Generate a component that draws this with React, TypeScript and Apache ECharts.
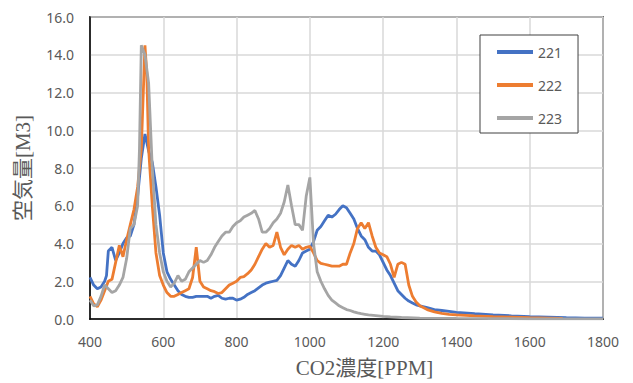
import React, { useEffect, useRef } from "react";
import * as echarts from "echarts";

const xTicks = [400, 600, 800, 1000, 1200, 1400, 1600, 1800];
const seriesNames = ["221", "222", "223"];

const x221 = [400,410,420,430,440,445,450,460,470,480,490,500,510,520,530,540,550,560,570,580,590,600,610,620,630,640,650,660,670,680,690,700,710,720,730,740,750,760,770,780,790,800,810,820,830,840,850,860,870,880,890,900,910,920,930,940,950,960,970,980,990,1000,1010,1020,1030,1040,1050,1060,1070,1080,1090,1100,1110,1120,1130,1140,1150,1160,1170,1180,1190,1200,1210,1220,1230,1240,1250,1260,1270,1280,1290,1300,1320,1340,1360,1380,1400,1450,1500,1550,1600,1650,1700,1750,1800];
const y221 = [2.2,1.8,1.6,1.7,2.0,2.3,3.6,3.8,3.1,3.5,4.0,4.3,4.4,5.0,6.5,8.5,9.8,8.9,8.3,7.0,5.5,3.5,2.5,2.1,1.8,1.5,1.3,1.2,1.15,1.15,1.2,1.2,1.2,1.2,1.1,1.2,1.25,1.1,1.05,1.1,1.1,1.0,1.05,1.15,1.3,1.4,1.5,1.65,1.8,1.9,1.95,2.0,2.05,2.3,2.7,3.1,2.9,2.8,3.1,3.5,3.6,3.7,4.1,4.7,4.9,5.2,5.5,5.4,5.55,5.8,6.0,5.9,5.6,5.3,4.8,4.4,4.2,3.8,3.6,3.6,3.4,3.0,2.6,2.3,1.9,1.5,1.3,1.1,0.95,0.85,0.75,0.7,0.6,0.5,0.45,0.4,0.35,0.28,0.22,0.17,0.13,0.1,0.07,0.05,0.05];

const x222 = [400,410,420,430,440,450,460,470,480,490,500,510,520,530,540,550,555,560,570,580,590,600,610,620,630,640,650,660,670,680,690,700,710,720,730,740,750,760,770,780,790,800,810,820,830,840,850,860,870,880,890,900,910,920,930,940,950,960,970,980,990,1000,1010,1020,1030,1040,1050,1060,1070,1080,1090,1100,1110,1120,1130,1140,1150,1160,1170,1180,1190,1200,1210,1220,1230,1240,1250,1260,1270,1280,1290,1300,1320,1340,1360,1380,1400,1450,1500,1550,1600,1650,1690];
const y222 = [1.2,0.8,0.65,1.0,1.5,2.0,2.1,3.0,3.9,3.3,4.2,5.0,5.8,7.0,9.0,14.5,13.0,9.0,6.0,3.5,2.3,1.8,1.4,1.2,1.2,1.3,1.4,1.5,1.6,2.2,3.8,2.0,1.7,1.6,1.5,1.45,1.35,1.4,1.6,1.8,1.9,2.0,2.2,2.25,2.4,2.6,2.9,3.3,3.7,4.0,3.8,3.9,4.6,3.8,3.4,3.7,3.9,3.8,3.9,3.7,3.8,3.85,3.5,3.1,2.95,2.9,2.85,2.8,2.8,2.8,2.9,2.9,3.5,4.0,4.8,5.1,4.8,5.1,4.4,3.8,3.5,3.4,3.3,2.9,2.2,2.9,3.0,2.9,1.8,1.2,0.9,0.7,0.5,0.38,0.3,0.25,0.22,0.17,0.13,0.1,0.07,0.05,0.03];

const x223 = [400,410,420,430,440,450,460,470,480,490,500,510,520,530,535,540,550,560,570,580,590,600,610,620,630,640,650,660,670,680,690,700,710,720,730,740,750,760,770,780,790,800,810,820,830,840,850,860,870,880,890,900,910,920,930,940,950,960,970,980,990,1000,1010,1020,1030,1040,1050,1060,1070,1080,1090,1100,1110,1120,1130,1140,1150,1160,1180,1200,1220,1250,1300,1400,1500,1600,1800];
const y223 = [1.0,0.7,0.75,1.2,1.8,1.6,1.4,1.5,1.8,2.2,3.2,4.8,5.0,6.0,9.0,14.5,14.0,12.5,8.0,5.0,3.5,2.5,2.0,1.7,1.9,2.3,2.0,2.1,2.5,2.7,2.9,3.1,3.0,3.1,3.4,3.8,4.1,4.4,4.6,4.6,4.9,5.1,5.2,5.4,5.5,5.6,5.75,5.3,4.6,4.6,4.8,5.1,5.3,5.6,6.2,7.1,6.0,5.0,5.0,4.7,6.5,7.5,4.0,2.5,2.0,1.6,1.25,1.0,0.85,0.7,0.6,0.5,0.45,0.38,0.32,0.28,0.25,0.22,0.18,0.14,0.11,0.08,0.05,0.03,0.02,0.01,0.01];

const colors = ["#4472C4", "#ED7D31", "#A5A5A5"];

function pairs(xs: number[], ys: number[]) {
  return xs.map((x, i) => [x, ys[i]]);
}

export default function App() {
  const ref = useRef<HTMLDivElement>(null);
  useEffect(() => {
    if (!ref.current) return;
    const chart = echarts.init(ref.current, null, { renderer: "svg" });
    const data = [pairs(x221, y221), pairs(x222, y222), pairs(x223, y223)];
    chart.setOption({
      animation: false,
      backgroundColor: "#fff",
      grid: {
        left: 90,
        right: 30,
        top: 17,
        bottom: 64,
        show: true,
        borderColor: "#000",
        borderWidth: 1.5,
      },
      legend: {
        orient: "vertical",
        left: 480,
        top: 35,
        width: 60,
        padding: [10, 16, 8, 17],
        itemGap: 19,
        itemWidth: 36,
        itemHeight: 4,
        icon: "rect",
        borderColor: "#404040",
        borderWidth: 1,
        backgroundColor: "#fff",
        data: seriesNames,
        textStyle: { color: "#595959", fontSize: 14, fontFamily: "Noto Sans" },
      },
      xAxis: {
        type: "value",
        min: 400,
        max: 1800,
        interval: 200,
        name: "CO2濃度[PPM]",
        nameLocation: "middle",
        nameGap: 38,
        nameTextStyle: {
          color: "#595959",
          fontSize: 21,
          fontFamily: "Liberation Serif, Noto Sans CJK JP",
          padding: [0, 0, 0, 36],
        },
        axisLine: { show: true, lineStyle: { color: "#000", width: 1.5 } },
        axisTick: { show: false },
        axisLabel: {
          color: "#595959",
          fontSize: 14,
          fontFamily: "Noto Sans",
          margin: 15,
          formatter: (v: number) => (xTicks.includes(v) ? String(v) : ""),
        },
        splitLine: { show: true, lineStyle: { color: "#D9D9D9", width: 1.5 } },
      },
      yAxis: {
        type: "value",
        min: 0,
        max: 16,
        interval: 2,
        name: "空気量[M3]",
        nameLocation: "middle",
        nameGap: 57,
        nameTextStyle: {
          color: "#595959",
          fontSize: 21,
          fontFamily: "Liberation Serif, Noto Sans CJK JP",
        },
        axisLine: { show: true, lineStyle: { color: "#000", width: 1.5 } },
        axisTick: { show: false },
        axisLabel: {
          color: "#595959",
          fontSize: 14,
          fontFamily: "Noto Sans",
          margin: 16,
          formatter: (v: number) => v.toFixed(1),
        },
        splitLine: { show: true, lineStyle: { color: "#D9D9D9", width: 1.5 } },
      },
      series: seriesNames.map((n, i) => ({
        name: n,
        type: "line",
        data: data[i],
        showSymbol: false,
        symbol: "none",
        color: colors[i],
        lineStyle: { color: colors[i], width: 2.8 },
        z: 2 + i,
      })),
    });
    return () => chart.dispose();
  }, []);
  return <div ref={ref} style={{ width: 633, height: 383, position: "absolute", left: 0, top: 0 }} />;
}
